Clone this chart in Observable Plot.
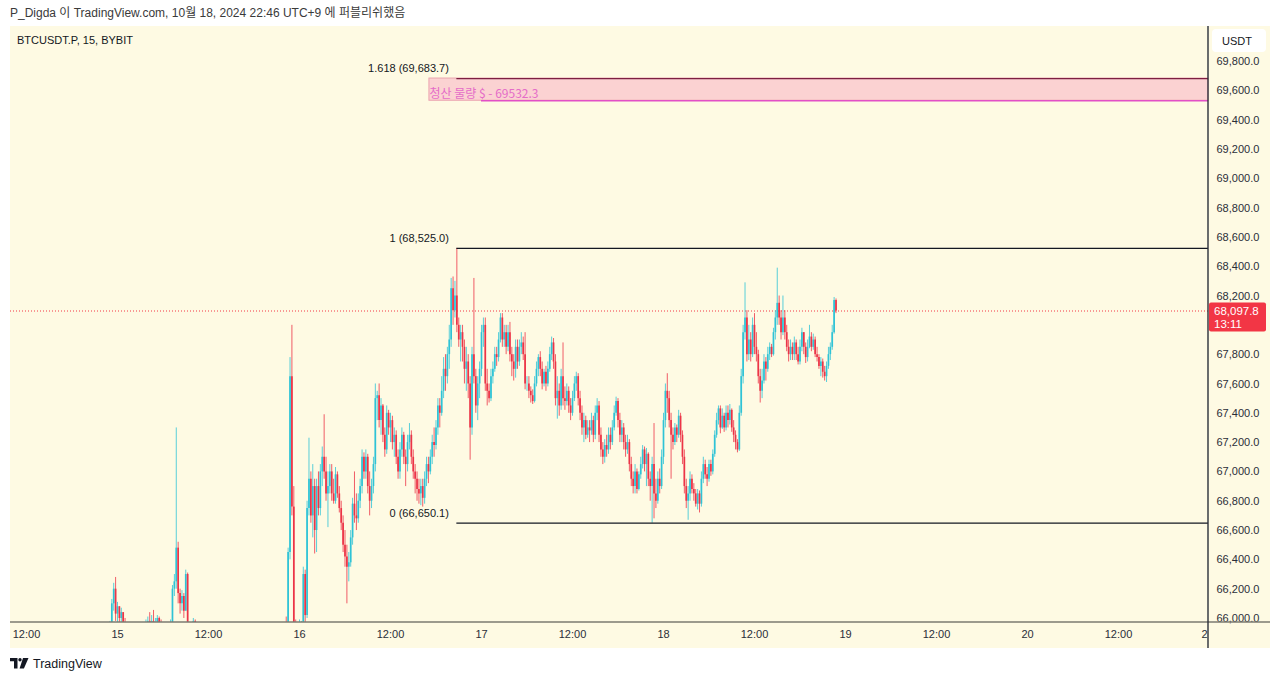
<!DOCTYPE html>
<html><head><meta charset="utf-8">
<script src="https://cdn.jsdelivr.net/npm/d3@7"></script>
<script src="https://cdn.jsdelivr.net/npm/@observablehq/plot@0.6"></script>
<style>
body{margin:0;background:#fff;width:1280px;height:681px;overflow:hidden;position:relative;font-family:'Liberation Sans',Arial,'Noto Sans CJK KR',sans-serif;}
#hdr{position:absolute;left:10px;top:0;height:26px;line-height:27px;font-size:12px;color:#3a3a3a;white-space:nowrap;font-family:'Liberation Sans',Arial,'Noto Sans CJK KR',sans-serif;}
#chart{position:absolute;left:10px;top:26px;width:1260px;height:622px;}
#ftr{position:absolute;left:10px;top:655px;height:17px;display:flex;align-items:center;gap:4px;font-size:12.5px;color:#131722;}
</style></head><body>
<div id="hdr">P_Digda 이 TradingView.com, 10월 18, 2024 22:46 UTC+9 에 퍼블리쉬했음</div>
<div id="chart"></div>
<div id="ftr"><svg width="19" height="11" viewBox="0 0 19 11"><path d="M0 0h7.5v10.5H4V3.2H0z" fill="#131722"/><circle cx="10" cy="1.7" r="1.7" fill="#131722"/><path d="M13 0h5.5l-4.6 10.5h-4.3z" fill="#131722"/></svg><span>TradingView</span></div>
<script>
// ---------- data ----------
const symbolLabel = "BTCUSDT.P, 15, BYBIT";
const quoteCurrency = "USDT";
const lastPrice = 68097.8;
const countdown = "13:11";
const seriesStart = "2024-10-14T22:00:00Z"; // 15-minute candles
const firstOpen = 65650;

const c14 = [65700,65750,65800,65850,65900,66100,66200,66030];
const h14 = [65800,65820,65900,65950,65980,66130,66240,66280];
const l14 = [65600,65680,65720,65780,65820,65880,66050,65980];

const c15 = [66080,66000,66040,65950,65900, 65850,65800,65750,65800,65780,65820,65850,65800,65850,65900,65950,
 65980,65900,65980,65920,65950,66000,65930,65900, 65850,65800,65850,65880,65950,
 66200,66250,66480,66170,66100,66150,66050,66300,65850,65800,65900,65980,65900,
 65800,65700,65650,65600,65550,65500,65450,65500,65400,65350,65300,65250,65300,65200,65150,65100,65050,65000,64950,64900,
 65000,64950,65050,65100,65150,65100,65200,65250,65300,65250,65350,65400,65450,65400,65500,65550,65600,65550,65650,65700,
 65750,65700,65750,65800,65850,65800,65850,
 65800,66450,67650,66760,65950,65900,65850];
const h15 = [66110,66080,66070,66040,66000, 65950,65900,65850,65850,65850,65880,65900,65900,65920,65960,65990,
 66010,66040,66020,66055,66000,66020,66010,65990, 65950,65900,65900,65950,65990,
 66225,66300,67300,66520,66200,66190,66170,66330,66310,65900,65950,66000,65990,
 65920,65820,65750,65700,65650,65600,65550,65560,65520,65450,65400,65350,65350,65320,65250,65200,65150,65100,65050,65000,
 65050,65050,65100,65150,65200,65200,65250,65300,65350,65350,65400,65450,65500,65500,65550,65600,65650,65650,65700,65750,
 65800,65800,65820,65850,65900,65900,65920,
 66010,66480,67780,68000,66900,65990,65950];
const l15 = [65950,65950,65950,65900,65850, 65800,65750,65700,65700,65720,65750,65780,65760,65780,65820,65860,
 65900,65880,65880,65880,65900,65930,65900,65850, 65800,65750,65780,65820,65850,
 65930,66150,66200,66100,66030,66050,66000,66050,65800,65700,65750,65850,65850,
 65750,65650,65580,65520,65480,65430,65380,65400,65350,65300,65220,65180,65200,65150,65080,65020,64980,64920,64880,64820,
 64850,64880,64900,65000,65050,65050,65080,65150,65200,65200,65220,65300,65350,65350,65380,65450,65500,65500,65520,65600,
 65650,65650,65680,65700,65750,65750,65780,
 65750,65780,66400,66700,65900,65800,65780];

const c16 = [65900,65950,66300,66020, 66750,66950,66700,66900, 66600,66900,66750,67000, 67100,67000,66850,66900,
 67000,66850,66800,66980, 66850,66750,66650,66500, 66420,66350,66380,66550, 66780,66700,66680,66800,
 66900,67100,67000,67100, 66900,66800,66900,67050, 67500,67520,67350,67450, 67250,67150,67400,67300,
 67350,67200,67250,67100, 67000,67150,67250,67100, 67050,67200,67250,67100, 67000,66950,66880,66850,
 66900,66820,66950,67050, 67000,67100,67200,67180, 67300,67450,67400,67550, 67700,67650,67800,67900,
 68250,68100,68200,68000, 67900,67950,67850,67700, 67750,67600,67300,67800, 67650,67450,67600,67700];
const h16 = [65990,65980,66350,66330, 66800,67230,67000,67050, 66950,66950,67000,67050, 67170,67390,67100,67000,
 67050,67050,66950,67030, 67000,66900,66800,66700, 66600,66500,66450,66600, 66820,67000,66850,66850,
 66950,67150,67130,67150, 67120,67000,66950,67100, 67600,67550,67600,67500, 67460,67300,67450,67420,
 67400,67380,67300,67280, 67150,67200,67300,67270, 67150,67250,67330,67280, 67150,67050,67000,66950,
 66950,66950,67000,67100, 67100,67150,67250,67300, 67350,67500,67500,67650, 67780,67800,67850,68000,
 68320,68330,68300,68525, 68050,68000,68000,67900, 67850,67800,67650,67850, 68320,67700,67650,67750];
const l16 = [65800,65850,65900,65950, 66000,66700,66650,66550, 66440,66450,66700,66700, 66900,66950,66800,66620,
 66850,66800,66780,66780, 66820,66720,66600,66450, 66350,66100,66250,66350, 66500,66650,66600,66650,
 66750,66850,66950,66950, 66850,66700,66750,66850, 67000,67350,67300,67250, 67200,67100,67120,67250,
 67200,67150,67100,67050, 66950,66950,67100,67050, 66900,67000,67150,67050, 66950,66850,66800,66780,
 66770,66760,66780,66900, 66920,66980,67050,67100, 67150,67250,67300,67380, 67500,67550,67600,67700,
 67850,68000,68050,67950, 67850,67750,67750,67600, 67550,67500,67080,67250, 67600,67400,67350,67500];

const c17 = [67950,68000,67600,67550, 67500,67650,67700,67800, 67780,67900,68050,67900, 67950,67850,67950,67800,
 67750,67700,67850,67750, 67850,67880,67800,67600, 67600,67550,67520,67480, 67600,67700,67780,67700,
 67600,67680,67600,67700, 67800,67880,67750,67500, 67550,67450,67650,67500, 67480,67550,67450,67400,
 67500,67600,67650,67500, 67400,67300,67350,67250, 67300,67280,67350,67250, 67400,67450,67250,67150,
 67100,67180,67150,67250, 67200,67300,67400,67480, 67350,67250,67300,67200, 67150,67200,67050,66950,
 66900,67000,66880,66980, 67050,67150,67050,67120, 66950,66900,67050,66850, 66800,66950,66900,67100];
const h17 = [68000,68050,68050,67700, 67600,67700,67750,67850, 67850,67950,68080,68080, 68000,68000,68000,68020,
 67850,67800,67900,67900, 67900,67950,67920,67950, 67650,67650,67580,67560, 67650,67750,67800,67820,
 67750,67700,67720,67750, 67850,67920,67910,67800, 67650,67600,67700,67880, 67580,67600,67580,67500,
 67550,67650,67680,67670, 67550,67450,67400,67380, 67350,67350,67400,67380, 67450,67500,67480,67300,
 67200,67220,67250,67300, 67300,67350,67450,67510, 67500,67400,67350,67330, 67250,67250,67220,67100,
 67000,67050,67020,67000, 67100,67180,67170,67160, 67130,67000,67100,67330, 66950,67000,67020,67150];
const l17 = [67650,67850,67550,67450, 67470,67480,67600,67680, 67720,67750,67880,67850, 67850,67800,67820,67750,
 67650,67620,67640,67700, 67720,67800,67760,67560, 67550,67500,67470,67460, 67470,67580,67650,67650,
 67560,67580,67550,67580, 67680,67760,67700,67450, 67360,67380,67420,67450, 67420,67450,67400,67350,
 67380,67480,67550,67450, 67350,67250,67200,67220, 67230,67200,67250,67200, 67220,67350,67200,67100,
 67050,67060,67100,67120, 67150,67180,67280,67380, 67300,67200,67200,67150, 67100,67120,67000,66900,
 66850,66850,66850,66870, 66950,67020,67000,66900, 66900,66800,66650,66680, 66750,66780,66850,66880];

const c18 = [67350,67550,67500,67350, 67250,67200,67300,67250, 67380,67250,67100,66900, 66800,66850,66950,66880,
 66850,66780,66850,66780, 66950,67050,66980,66950, 67050,67000,67120,67250, 67350,67430,67300,67380,
 67300,67400,67350,67420, 67300,67250,67200,67150, 67400,67650,67950,68050, 67800,67900,67800,68000,
 67850,67800,67650,67550, 67620,67750,67700,67800, 67850,67800,67950,68050, 68150,68050,67950,68050,
 67950,67850,67800,67850, 67800,67880,67800,67750, 67850,67950,67850,67780, 67850,67920,67850,67900,
 67800,67780,67720,67750, 67680,67650,67720,67800, 67850,67950,68170,68097.8];
const h18 = [67400,67600,67670,67550, 67400,67300,67330,67320, 67420,67400,67280,67150, 66950,66900,67000,66980,
 66920,66880,66880,66870, 67000,67100,67080,67030, 67080,67080,67150,67280, 67400,67450,67450,67430,
 67400,67450,67450,67460, 67430,67350,67280,67220, 67450,67700,68000,68290, 68100,68000,67950,68050,
 68080,67950,67830,67700, 67700,67800,67780,67850, 67880,67870,67980,68100, 68390,68200,68100,68200,
 68100,68000,67900,67900, 67880,67920,67900,67850, 67900,67980,67950,67880, 67900,68000,67950,67940,
 67920,67850,67800,67780, 67770,67720,67750,67850, 67880,68000,68190,68180];
const l18 = [67050,67300,67400,67300, 66950,67150,67180,67200, 67230,67200,67050,66850, 66750,66670,66800,66850,
 66800,66760,66740,66720, 66760,66920,66950,66900, 66930,66970,66980,67100, 67230,67320,67260,67290,
 67270,67280,67300,67320, 67270,67200,67150,67130, 67140,67380,67600,67900, 67750,67760,67750,67780,
 67800,67750,67600,67470, 67500,67600,67620,67680, 67760,67780,67790,67900, 68000,68000,67900,67930,
 67900,67820,67750,67760, 67760,67760,67760,67730, 67730,67820,67800,67740, 67750,67840,67820,67830,
 67780,67750,67700,67650, 67640,67620,67610,67700, 67760,67830,67940,68080];

// drawings
const fibLabels = ["1.618", "1", "0"];
const fibPrices = [69683.7, 68525.0, 66650.1];
const fibColors = ["#7d1f42", "#131722", "#131722"];
const fibStart = "2024-10-16T20:45:00Z";
const liqZoneStart = "2024-10-16T17:08:00Z";
const liqLineStart = "2024-10-17T00:00:00Z";
const liqPrice = 69532.3;
const liqText = "청산 물량 $ - 69532.3";

// axes (68,000.0 sits under the last-price tag, so it is not shown)
const yTicks = [66000,66200,66400,66600,66800,67000,67200,67400,67600,67800,68200,68400,68600,68800,69000,69200,69400,69600,69800];
const xTickTimes = ["2024-10-14T12:00:00Z","2024-10-15T00:00:00Z","2024-10-15T12:00:00Z","2024-10-16T00:00:00Z","2024-10-16T12:00:00Z","2024-10-17T00:00:00Z","2024-10-17T12:00:00Z","2024-10-18T00:00:00Z","2024-10-18T12:00:00Z","2024-10-19T00:00:00Z","2024-10-19T12:00:00Z","2024-10-20T00:00:00Z","2024-10-20T12:00:00Z"];
const xTickLabels = ["12:00","15","12:00","16","12:00","17","12:00","18","12:00","19","12:00","20","12:00"];
const cutTickTime = "2024-10-21T00:00:00Z";
const cutTickLabel = "21";

// ---------- build ----------
const closes = [...c14, ...c15, ...c16, ...c17, ...c18];
const highs = [...h14, ...h15, ...h16, ...h17, ...h18];
const lows = [...l14, ...l15, ...l16, ...l17, ...l18];
const t0 = Date.parse(seriesStart);
const n = Math.min(closes.length, highs.length, lows.length);
const candles = [];
for (let i = 0; i < n; i++) {
  candles.push({t: new Date(t0 + i * 900000), open: i ? closes[i-1] : firstOpen, close: closes[i], high: highs[i], low: lows[i]});
}
const ups = candles.filter(d => d.close >= d.open);
const downs = candles.filter(d => d.close < d.open);

const W = 1260, H = 622, MB = 26, MR = 62;
const frameR = W - MR, frameB = H - MB;
const day = 86400000;
const anchor = Date.parse("2024-10-15T00:00:00Z");
const pxPerDay = 182, anchorPx = 107;
const xDomain = [new Date(anchor - anchorPx / pxPerDay * day), new Date(anchor + (frameR - anchorPx) / pxPerDay * day)];
const yDomain = [65972.7, 70038.8];
const UP = "#2fc3d6", DOWN = "#ec3447";
const labelMap = new Map(xTickTimes.map((s, i) => [Date.parse(s), xTickLabels[i]]));

const fibs = fibPrices.map((p, i) => ({p, label: `${fibLabels[i]} (${d3.format(",.1f")(p)})`, color: fibColors[i], x1: new Date(fibStart), x2: xDomain[1]}));

const chart = Plot.plot({
  width: W, height: H,
  marginLeft: 0, marginRight: MR, marginTop: 0, marginBottom: MB,
  style: {background: "#fefae3", fontFamily: "'Liberation Sans', Arial, sans-serif", fontSize: "11px", color: "#2a2e39", overflow: "visible"},
  x: {type: "utc", domain: xDomain, ticks: xTickTimes.map(s => new Date(s)), tickFormat: d => labelMap.get(+d) ?? "", tickSize: 0, tickPadding: 8, label: null},
  y: {domain: yDomain, ticks: yTicks, tickFormat: d3.format(",.1f"), axis: "right", tickSize: 0, tickPadding: 8, label: null},
  marks: [
    Plot.rect([{x1: new Date(liqZoneStart), x2: xDomain[1], y1: liqPrice, y2: fibPrices[0]}], {x1: "x1", x2: "x2", y1: "y1", y2: "y2", fill: "#fbd2d2", stroke: "#eaa2ae", strokeWidth: 1}),
    Plot.ruleY([{y: liqPrice, x1: new Date(liqLineStart), x2: xDomain[1]}], {y: "y", x1: "x1", x2: "x2", stroke: "#e24fc6", strokeWidth: 1.6}),
    Plot.text([{x: new Date(liqZoneStart), y: liqPrice}], {x: "x", y: "y", text: () => liqText, textAnchor: "start", dy: -7, fontSize: 12, fill: "#e56cc8", fontFamily: "'Noto Sans CJK KR', 'Liberation Sans', sans-serif"}),
    Plot.ruleY([lastPrice], {stroke: "#f23645", strokeWidth: 1, strokeDasharray: "1,2"}),
    Plot.ruleX(ups, {x: "t", y1: "low", y2: "high", stroke: UP, strokeWidth: 1, strokeOpacity: 0.8, clip: true}),
    Plot.ruleX(downs, {x: "t", y1: "low", y2: "high", stroke: DOWN, strokeWidth: 1, strokeOpacity: 0.8, clip: true}),
    Plot.ruleX(ups, {x: "t", y1: "open", y2: "close", stroke: UP, strokeWidth: 1.7, clip: true}),
    Plot.ruleX(downs, {x: "t", y1: "open", y2: "close", stroke: DOWN, strokeWidth: 1.7, clip: true}),
    Plot.ruleY(fibs, {y: "p", x1: "x1", x2: "x2", stroke: "color", strokeWidth: 1.2}),
    Plot.text(fibs, {x: "x1", y: "p", text: "label", textAnchor: "end", dx: -8, dy: -10, fontSize: 11, fill: "#131722"})
  ]
});
document.getElementById("chart").appendChild(chart);

// ---------- chart chrome (TradingView panels) ----------
const svg = d3.select(chart);
const xs = chart.scale("x"), ys = chart.scale("y");
svg.append("line").attr("x1", 0).attr("x2", W).attr("y1", frameB).attr("y2", frameB).attr("stroke", "#7b7a70").attr("stroke-width", 1.5);
svg.append("line").attr("x1", frameR).attr("x2", frameR).attr("y1", 0).attr("y2", H).attr("stroke", "#2a2e39").attr("stroke-width", 1.4);
// cut-off last date label
svg.append("clipPath").attr("id", "cutclip").append("rect").attr("x", 0).attr("y", frameB).attr("width", frameR - 0.5).attr("height", MB);
svg.append("text").attr("clip-path", "url(#cutclip)").attr("x", xs.apply(new Date(cutTickTime)) - 1.5).attr("y", frameB + 8).attr("dy", "0.71em")
  .attr("text-anchor", "middle").attr("fill", "#2a2e39").attr("font-size", 11).text(cutTickLabel);
// symbol
svg.append("text").attr("x", 7).attr("y", 14).attr("dy", "0.35em").attr("text-anchor", "start").attr("font-size", 11).attr("fill", "#131722").text(symbolLabel);
// currency box
svg.append("rect").attr("x", frameR + 4).attr("y", 3).attr("width", 54).attr("height", 23).attr("rx", 4).attr("fill", "#ffffff");
svg.append("text").attr("x", frameR + 14).attr("y", 15).attr("dy", "0.35em").attr("text-anchor", "start").attr("font-size", 11).attr("fill", "#131722").text(quoteCurrency);
// last price tag
const py = ys.apply(lastPrice);
svg.append("rect").attr("x", frameR + 1).attr("y", py - 8).attr("width", 57).attr("height", 29).attr("rx", 2).attr("fill", "#f23645");
svg.append("text").attr("x", frameR + 6).attr("y", py).attr("dy", "0.35em").attr("text-anchor", "start").attr("font-size", 11.5).attr("fill", "#fff").text(d3.format(",.1f")(lastPrice));
svg.append("text").attr("x", frameR + 6).attr("y", py + 13.5).attr("dy", "0.35em").attr("text-anchor", "start").attr("font-size", 11.5).attr("fill", "#fff").text(countdown);
</script>
</body></html>
